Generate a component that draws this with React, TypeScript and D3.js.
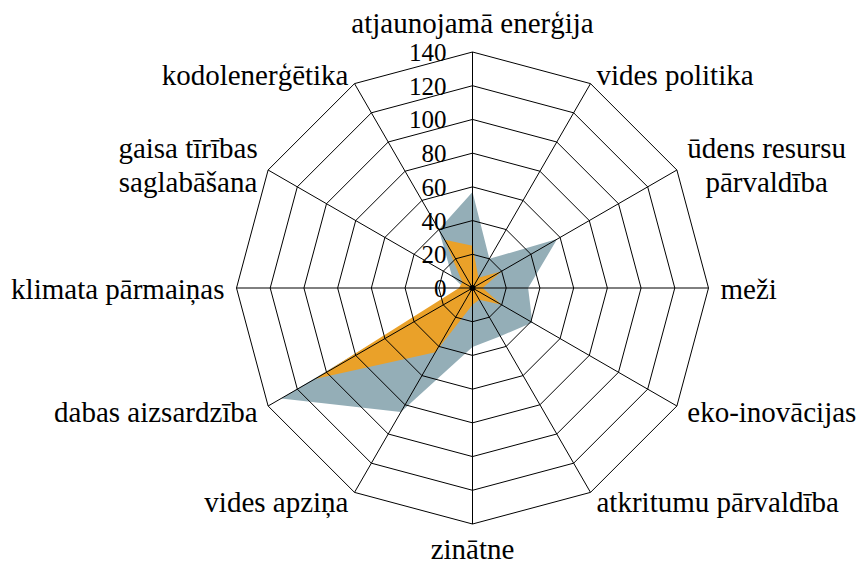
import React from "react";
import * as d3 from "d3";

const categories: string[][] = [
  ["atjaunojamā enerģija"],
  ["vides politika"],
  ["ūdens resursu", "pārvaldība"],
  ["meži"],
  ["eko-inovācijas"],
  ["atkritumu pārvaldība"],
  ["zinātne"],
  ["vides apziņa"],
  ["dabas aizsardzība"],
  ["klimata pārmaiņas"],
  ["gaisa tīrības", "saglabāšana"],
  ["kodolenerģētika"],
];

const seriesGray: number[] = [57, 20, 58, 33, 41, 33, 35, 85, 131, 5, 14, 40];
const seriesOrange: number[] = [25, 7, 20, 6, 20, 8, 10, 44, 108, 8, 7, 33];

const ticks: number[] = [0, 20, 40, 60, 80, 100, 120, 140];

const W = 859;
const H = 565;
const cx = 472.5;
const cy = 288;
const R = 236;
const FONT = "Liberation Serif";
const LABEL_SIZE = 29;
const TICK_SIZE = 25;

let ctx: CanvasRenderingContext2D | null = null;
function measure(t: string): number {
  if (!ctx) {
    const c = document.createElement("canvas");
    ctx = c.getContext("2d");
  }
  if (!ctx) return t.length * LABEL_SIZE * 0.45;
  ctx.font = `${LABEL_SIZE}px Liberation Serif`;
  return ctx.measureText(t).width;
}

export default function App() {
  const n = categories.length;
  const step = (2 * Math.PI) / n;
  const r = d3.scaleLinear().domain([0, 140]).range([0, R]);

  const radial = d3
    .lineRadial<number>()
    .angle((_d, i) => i * step)
    .radius((d) => r(d))
    .curve(d3.curveLinearClosed);

  const ringPath = (v: number) => radial(d3.range(n).map(() => v)) || "";

  const labelR = R + 12;

  return (
    <svg
      width={W}
      height={H}
      style={{ position: "absolute", left: 0, top: 0, background: "#fff" }}
    >
      <g transform={`translate(${cx},${cy})`}>
        <path d={radial(seriesGray) || ""} fill="#94aeb7" stroke="none" />
        <path d={radial(seriesOrange) || ""} fill="#eaa129" stroke="none" />
        {ticks.slice(1).map((t) => (
          <path key={t} d={ringPath(t)} fill="none" stroke="#000" strokeWidth={1} />
        ))}
        {d3.range(n).map((i) => {
          const a = i * step;
          return (
            <line
              key={i}
              x1={0}
              y1={0}
              x2={R * Math.sin(a)}
              y2={-R * Math.cos(a)}
              stroke="#000"
              strokeWidth={1}
            />
          );
        })}
        <circle r={3} fill="#000" />
      </g>
      {ticks.map((t) => (
        <text
          key={t}
          x={cx - 26}
          y={cy - r(t) + 9}
          textAnchor="end"
          fill="#000"
          style={{ fontFamily: FONT, fontSize: TICK_SIZE }}
        >
          {t}
        </text>
      ))}
      {categories.map((lines, i) => {
        const a = i * step;
        const s = Math.sin(a);
        const c = Math.cos(a);
        const px = cx + labelR * s;
        const py = cy - labelR * c;
        let anchor = "middle";
        let x = px;
        if (s > 0.01) anchor = "start";
        else if (s < -0.01) anchor = "end";
        let base: number;
        if (Math.abs(s) < 0.01) {
          base = c > 0 ? py - 7 : py + 23;
        } else {
          base = py + 10.5 + 1.5 * c;
        }
        if (lines.length > 1) {
          const mw = Math.max(...lines.map(measure));
          x = anchor === "start" ? px + mw / 2 : px - mw / 2;
          anchor = "middle";
        }
        const lh = 34;
        const first = base - ((lines.length - 1) * lh) / 2;
        return (
          <text
            key={i}
            x={x}
            textAnchor={anchor as any}
            fill="#000"
            style={{ fontFamily: FONT, fontSize: LABEL_SIZE }}
          >
            {lines.map((l, j) => (
              <tspan key={j} x={x} y={first + j * lh}>
                {l}
              </tspan>
            ))}
          </text>
        );
      })}
    </svg>
  );
}
